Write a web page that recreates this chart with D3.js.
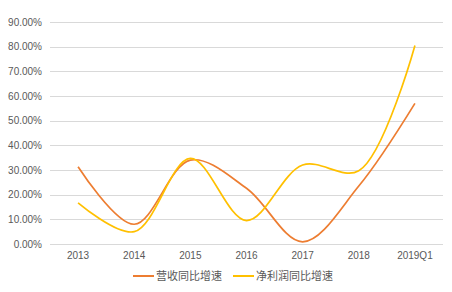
<!DOCTYPE html>
<html>
<head>
<meta charset="utf-8">
<script src="https://cdn.jsdelivr.net/npm/d3@7"></script>
<style>
  body { margin: 0; background: #fff; }
  #chart text { font-family: "Liberation Sans", Arial, "Noto Sans CJK SC", sans-serif; fill: #595959; }
</style>
</head>
<body>
<div id="chart"></div>
<script>
const categories = ['2013', '2014', '2015', '2016', '2017', '2018', '2019Q1'];
const revenueGrowth = [31.3, 8.0, 34.0, 22.6, 0.9, 23.5, 57.0];
const profitGrowth = [16.7, 5.0, 34.7, 9.5, 32.0, 29.7, 80.5];
const yTicks = [0, 10, 20, 30, 40, 50, 60, 70, 80, 90];
const seriesNames = ['营收同比增速', '净利润同比增速'];
const colors = ['#ED7D31', '#FFC000'];

const width = 452, height = 292;
const margin = { top: 22, right: 9, bottom: 48, left: 50 };

const svg = d3.select('#chart').append('svg')
  .attr('width', width)
  .attr('height', height);

const x = d3.scaleBand()
  .domain(categories)
  .range([margin.left, width - margin.right]);

const y = d3.scaleLinear()
  .domain([0, 90])
  .range([height - margin.bottom, margin.top]);

// gridlines
svg.append('g')
  .selectAll('line')
  .data(yTicks)
  .enter().append('line')
    .attr('x1', margin.left)
    .attr('x2', width - margin.right)
    .attr('y1', d => Math.round(y(d)) + 0.5)
    .attr('y2', d => Math.round(y(d)) + 0.5)
    .attr('stroke', '#d9d9d9')
    .attr('stroke-width', 1);

// y labels
svg.append('g')
  .selectAll('text')
  .data(yTicks)
  .enter().append('text')
    .attr('x', margin.left - 8)
    .attr('y', d => y(d))
    .attr('dy', '0.35em')
    .attr('text-anchor', 'end')
    .style('font-size', '10px')
    .text(d => d.toFixed(2) + '%');

// x labels
svg.append('g')
  .selectAll('text')
  .data(categories)
  .enter().append('text')
    .attr('x', d => x(d) + x.bandwidth() / 2)
    .attr('y', height - margin.bottom + 15)
    .attr('text-anchor', 'middle')
    .style('font-size', '10px')
    .text(d => d);

const line = d3.line()
  .x((d, i) => x(categories[i]) + x.bandwidth() / 2)
  .y(d => y(d))
  .curve(d3.curveCatmullRom.alpha(0.5));

[revenueGrowth, profitGrowth].forEach((series, i) => {
  svg.append('path')
    .datum(series)
    .attr('fill', 'none')
    .attr('stroke', colors[i])
    .attr('stroke-width', 1.7)
    .attr('d', line);
});

// legend
const legend = svg.append('g')
  .attr('transform', `translate(0, ${height - 16})`);

const legendX = [133, 233];
seriesNames.forEach((name, i) => {
  const g = legend.append('g').attr('transform', `translate(${legendX[i]}, 0)`);
  g.append('line')
    .attr('x1', 0).attr('x2', 21)
    .attr('y1', 0).attr('y2', 0)
    .attr('stroke', colors[i])
    .attr('stroke-width', 2);
  g.append('text')
    .attr('x', 23)
    .attr('dy', '0.35em')
    .style('font-size', '11px')
    .text(name);
});
</script>
</body>
</html>
